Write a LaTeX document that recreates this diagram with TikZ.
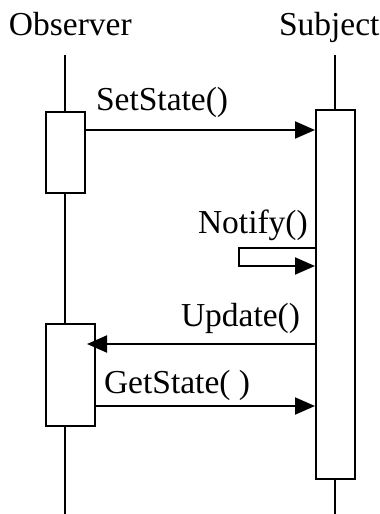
\documentclass[tikz,border=0pt]{standalone}
\usepackage{fontspec}
\setmainfont{Liberation Serif}
\usepackage{tikz}
\usetikzlibrary{arrows.meta}

\begin{document}
\begin{tikzpicture}[x=1pt,y=-1pt,line width=2pt,
    msg/.style={-{Triangle[length=20pt,width=17pt]}}]
    \tikzstyle{box}=[rectangle, draw, fill=white, inner sep=0pt]
    \tikzstyle{label}=[font=\fontsize{33.5}{38}\selectfont, inner sep=0pt, anchor=base west]

    \useasboundingbox (0,0) rectangle (380,514);

    % Objects and lifelines
    \node[label] (tobs) at (8,35) {Observer};
    \node[label] (tsub) at (278,35) {Subject};
    \coordinate (obstop) at (65,55);
    \coordinate (obsbot) at (65,514);
    \coordinate (subtop) at (335,55);
    \coordinate (subbot) at (335,514);
    \draw (obstop) -- (obsbot);
    \draw (subtop) -- (subbot);

    % Activation boxes
    \node[box, minimum width=39pt, minimum height=81pt] (obs1) at (65.5,152.5) {};
    \node[box, minimum width=49pt, minimum height=102pt] (obs2) at (70.5,375) {};
    \node[box, minimum width=39pt, minimum height=369pt] (sub) at (335.5,294.5) {};

    % Messages
    \draw[msg] (obs1.east |- 0,130) -- (sub.west |- 0,130);
    \node[label] (lset) at (95,110) {SetState()};

    \coordinate (loop) at (239,257);
    \draw[msg] (sub.west |- 0,248) -| (loop) |- (sub.west |- 0,266);
    \node[label] (lnot) at (197,233) {Notify()};

    % tip runs into the box a little
    \draw[msg, shorten >=-9pt] (sub.west |- 0,344) -- (obs2.east |- 0,344);
    \node[label] (lupd) at (180,326) {Update()};

    \draw[msg] (obs2.east |- 0,406) -- (sub.west |- 0,406);
    \node[label] (lget) at (103,393) {GetState( )};
\end{tikzpicture}
\end{document}
